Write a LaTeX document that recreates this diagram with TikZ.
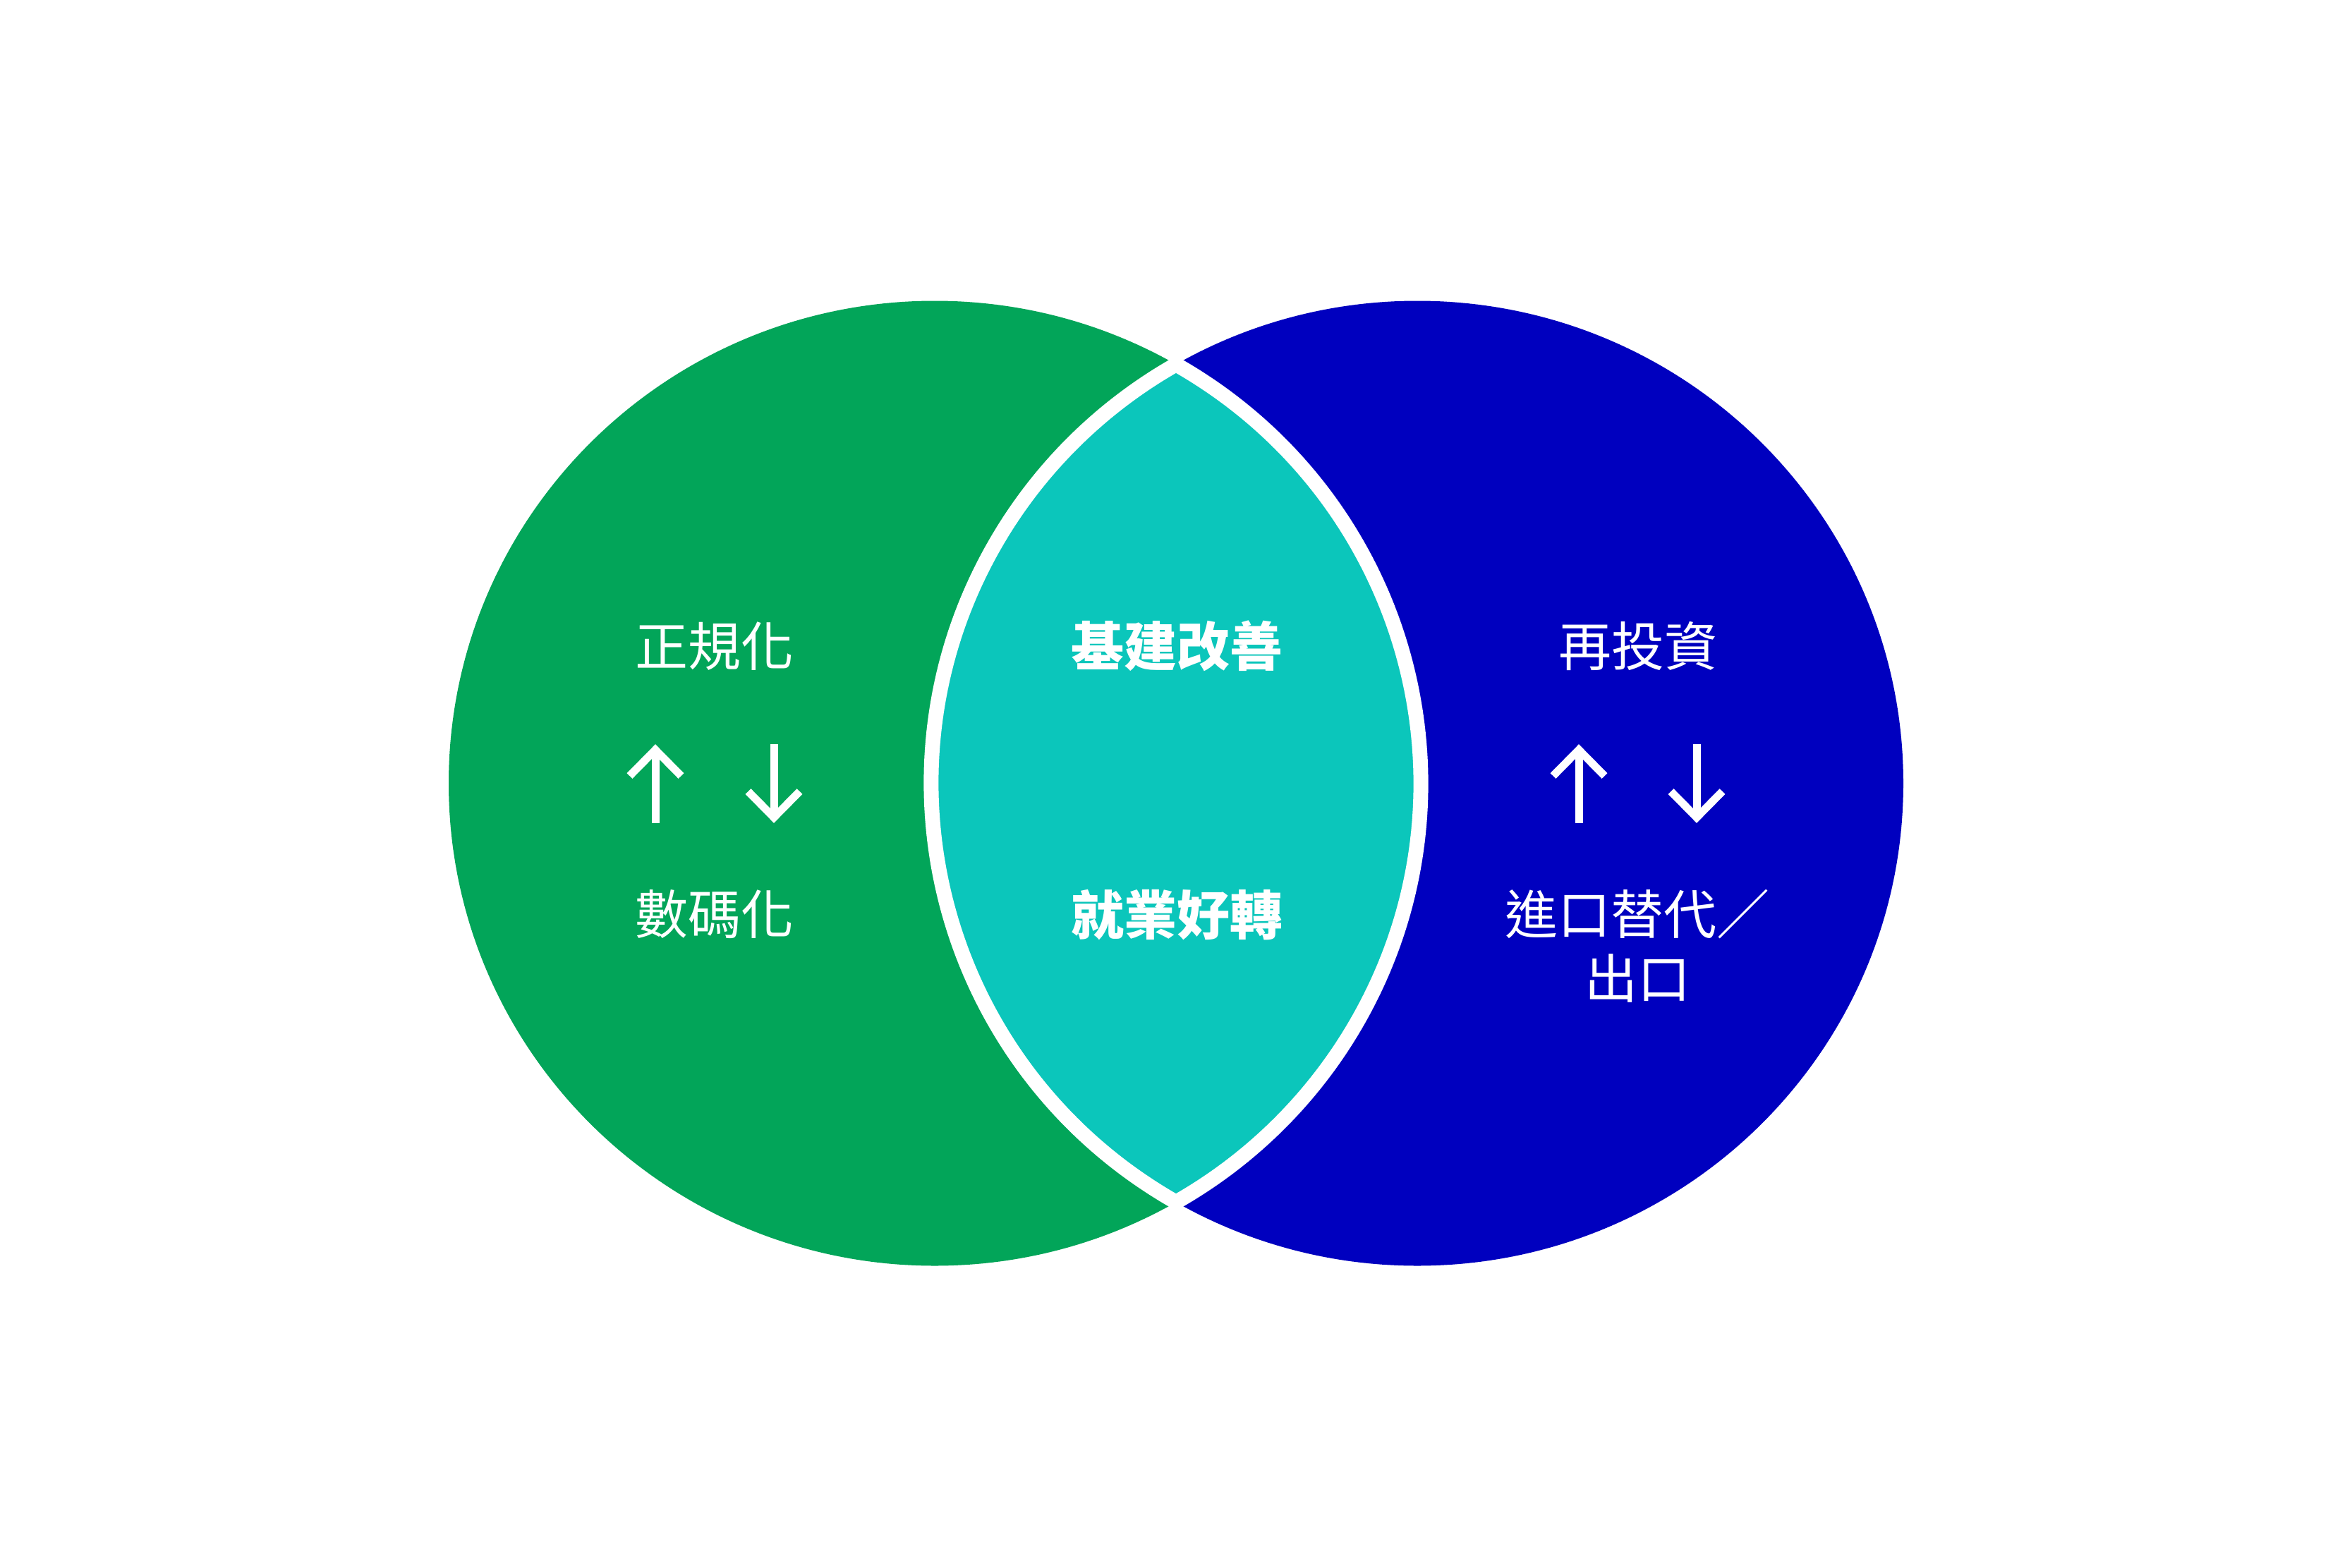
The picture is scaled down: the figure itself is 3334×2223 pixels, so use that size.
\documentclass[tikz,border=0pt]{standalone}
\usepackage{fontspec}
\newfontfamily\cjk{Noto Sans CJK TC}
\definecolor{vgreen}{RGB}{2,165,89}
\definecolor{vblue}{RGB}{0,0,191}
\definecolor{vteal}{RGB}{11,198,187}
\tikzset{
  lbl/.style={text=white, font=\cjk\fontsize{75}{91}\selectfont, inner sep=0pt, align=center},
  blbl/.style={lbl, font=\cjk\bfseries\fontsize{75}{91}\selectfont},
  arrline/.style={draw=white, line width=11pt, line cap=butt, line join=miter}
}
\begin{document}
\begin{tikzpicture}[x=1pt,y=-1pt]
\useasboundingbox (0,0) rectangle (3334,2223);
\fill[white] (0,0) rectangle (3334,2223);
\pgfmathsetmacro\ang{acos(342/689)}
\fill[vgreen] (1325,1110.5) ellipse[x radius=689, y radius=684];
\fill[vblue] (2009,1110.5) ellipse[x radius=689, y radius=684];
\coordinate (T) at ({1325+689*cos(\ang)},{1110.5-684*sin(\ang)});
\filldraw[fill=vteal, draw=white, line width=21pt, line join=miter]
  (T) arc[start angle=-\ang, end angle=\ang, x radius=689, y radius=684]
      arc[start angle={180-\ang}, end angle={180+\ang}, x radius=689, y radius=684] -- cycle;
% left circle
\node[lbl] (a1) at (1013,916) {正規化};
\node[lbl] (a4) at (1013,1296) {數碼化};
\draw[arrline] (929,1167) -- (929,1063);
\draw[arrline] (892.5,1100) -- (929,1063) -- (965.5,1100);
\draw[arrline] (1097,1055) -- (1097,1159);
\draw[arrline] (1060.5,1122) -- (1097,1159) -- (1133.5,1122);
% lens
\node[blbl] (b1) at (1668,916) {基建改善};
\node[blbl] (b2) at (1668,1297) {就業好轉};
% right circle
\node[lbl] (c1) at (2322,916) {再投資};
\draw[arrline] (2238,1167) -- (2238,1063);
\draw[arrline] (2201.5,1100) -- (2238,1063) -- (2274.5,1100);
\draw[arrline] (2405,1055) -- (2405,1159);
\draw[arrline] (2368.5,1122) -- (2405,1159) -- (2441.5,1122);
\node[lbl] (c4) at (2321,1341) {進口替代／\\出口};
\end{tikzpicture}
\end{document}
